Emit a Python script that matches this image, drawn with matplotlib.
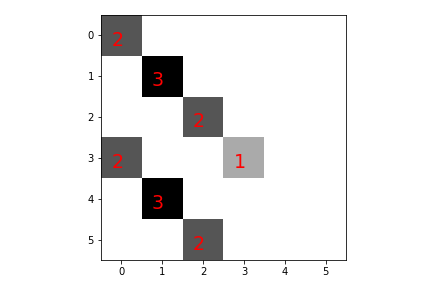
import matplotlib
matplotlib.use("Agg")
import matplotlib.pyplot as plt
import numpy as np

rows = [0, 1, 2, 3, 3, 4, 5]
cols = [0, 1, 2, 0, 3, 1, 2]
values = [2, 3, 2, 2, 1, 3, 2]
n = 6

mat = np.zeros((n, n))
for r, c, v in zip(rows, cols, values):
    mat[r, c] = v

fig = plt.figure(figsize=(6, 4), dpi=72)
ax = fig.add_axes([101/432, 28/288, 245/432, 245/288])
ax.imshow(mat, cmap='gray_r', vmin=0, vmax=3)
for r, c, v in zip(rows, cols, values):
    ax.text(c - 0.25, r + 0.25, str(v), color='red', fontsize=19)
ax.set_xticks(range(n))
ax.set_yticks(range(n))
fig.savefig("out.png", dpi=72)
